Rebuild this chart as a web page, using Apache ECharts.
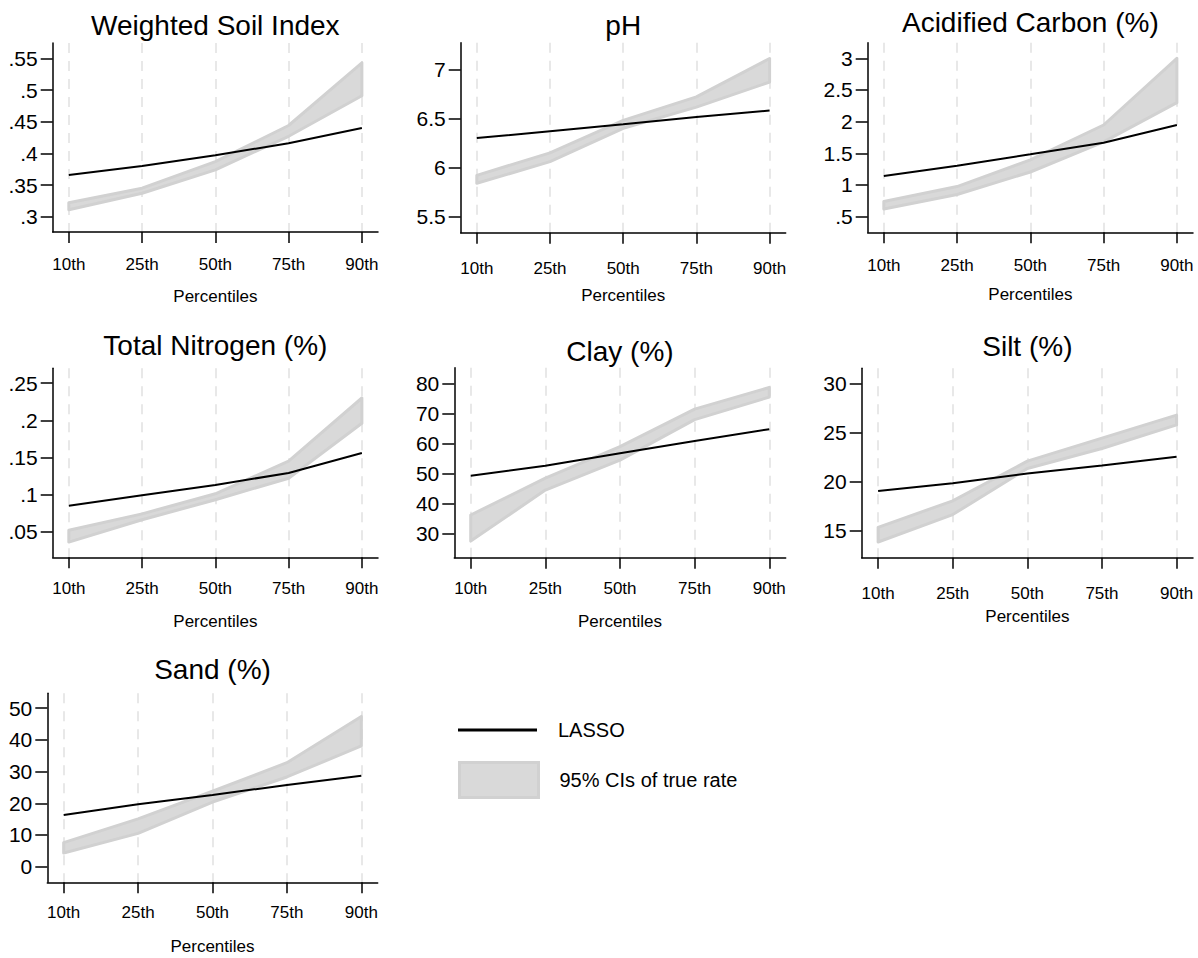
<!DOCTYPE html>
<html><head><meta charset="utf-8">
<script src="https://cdn.jsdelivr.net/npm/echarts@6/dist/echarts.min.js"></script>
<style>html,body{margin:0;padding:0;background:#fff}#c{width:1198px;height:958px}</style>
</head><body><div id="c"></div>
<script>
// ---------- data ----------
const percentiles = ['10th', '25th', '50th', '75th', '90th'];
const panelTitles = ['Weighted Soil Index', 'pH', 'Acidified Carbon (%)', 'Total Nitrogen (%)', 'Clay (%)', 'Silt (%)', 'Sand (%)'];
const legendNames = ['LASSO', '95% CIs of true rate'];
const xTitle = 'Percentiles';

const lassoWSI  = [0.366, 0.380, 0.397, 0.416, 0.440];
const ciLowWSI  = [0.311, 0.337, 0.374, 0.427, 0.491];
const ciHighWSI = [0.322, 0.345, 0.387, 0.444, 0.543];
const yTicksWSI = [0.3, 0.35, 0.4, 0.45, 0.5, 0.55];

const lassoPH  = [6.30, 6.37, 6.44, 6.515, 6.58];
const ciLowPH  = [5.84, 6.06, 6.40, 6.615, 6.87];
const ciHighPH = [5.92, 6.15, 6.48, 6.72, 7.11];
const yTicksPH = [5.5, 6, 6.5, 7];

const lassoAC  = [1.14, 1.305, 1.485, 1.668, 1.947];
const ciLowAC  = [0.62, 0.85, 1.205, 1.68, 2.30];
const ciHighAC = [0.74, 0.975, 1.395, 1.947, 3.0];
const yTicksAC = [0.5, 1, 1.5, 2, 2.5, 3];

const lassoTN  = [0.085, 0.099, 0.113, 0.129, 0.156];
const ciLowTN  = [0.036, 0.066, 0.093, 0.122, 0.196];
const ciHighTN = [0.052, 0.074, 0.101, 0.145, 0.230];
const yTicksTN = [0.05, 0.1, 0.15, 0.2, 0.25];

const lassoClay  = [49.2, 52.5, 56.7, 60.8, 64.7];
const ciLowClay  = [27.4, 44.4, 54.4, 67.9, 75.4];
const ciHighClay = [36.1, 48.4, 58.9, 71.4, 78.6];
const yTicksClay = [30, 40, 50, 60, 70, 80];

const lassoSilt  = [19.0, 19.8, 20.8, 21.6, 22.5];
const ciLowSilt  = [13.8, 16.6, 21.3, 23.35, 25.75];
const ciHighSilt = [15.3, 18.0, 22.05, 24.4, 26.75];
const yTicksSilt = [15, 20, 25, 30];

const lassoSand  = [16.3, 19.7, 22.6, 25.8, 28.7];
const ciLowSand  = [4.3, 10.5, 20.4, 28.3, 38.1];
const ciHighSand = [7.6, 15.1, 23.8, 32.8, 47.4];
const yTicksSand = [0, 10, 20, 30, 40, 50];

// ---------- layout (positions / axis ranges) ----------
const layout = [
  {left: 52.7,  top: 43,    width: 325.3, height: 189,   yMin: 0.2758, yMax: 0.5743, titleC: 25.8,  xlabC: 264.5, nameC: 296.7},
  {left: 460.7, top: 42.7,  width: 325,   height: 190,   yMin: 5.337,  yMax: 7.271,  titleC: 25,    xlabC: 268.3, nameC: 295},
  {left: 867.7, top: 42.7,  width: 325.3, height: 189.6, yMin: 0.253,  yMax: 3.246,  titleC: 22.5,  xlabC: 265.8, nameC: 294},
  {left: 52.7,  top: 368.3, width: 325.3, height: 189,   yMin: 0.0155, yMax: 0.270,  titleC: 345,   xlabC: 588,   nameC: 621},
  {left: 454.3, top: 367.7, width: 331.4, height: 190,   yMin: 21.87,  yMax: 85.2,   titleC: 351.7, xlabC: 588,   nameC: 621.3},
  {left: 861.7, top: 368.3, width: 331.3, height: 189.4, yMin: 12.2,   yMax: 31.53,  titleC: 346.7, xlabC: 593.3, nameC: 616},
  {left: 47.3,  top: 693.3, width: 330.4, height: 189,   yMin: -4.93,  yMax: 54.7,   titleC: 669.5, xlabC: 912.5, nameC: 946}
];

const panels = [
  {lasso: lassoWSI,  lo: ciLowWSI,  hi: ciHighWSI,  ticks: yTicksWSI},
  {lasso: lassoPH,   lo: ciLowPH,   hi: ciHighPH,   ticks: yTicksPH},
  {lasso: lassoAC,   lo: ciLowAC,   hi: ciHighAC,   ticks: yTicksAC},
  {lasso: lassoTN,   lo: ciLowTN,   hi: ciHighTN,   ticks: yTicksTN},
  {lasso: lassoClay, lo: ciLowClay, hi: ciHighClay, ticks: yTicksClay},
  {lasso: lassoSilt, lo: ciLowSilt, hi: ciHighSilt, ticks: yTicksSilt},
  {lasso: lassoSand, lo: ciLowSand, hi: ciHighSand, ticks: yTicksSand}
];

const FONT = "'Liberation Sans', Arial, Helvetica, sans-serif";
const TITLE_SIZE = 28, XLAB_SIZE = 17, YLAB_SIZE = 21, NAME_SIZE = 17, LEG_SIZE = 20;
const BAND_FILL = '#d9d9d9', BAND_EDGE = '#d1d1d1';
const xIdx = percentiles.map((_, j) => j);
const fmtY = v => String(v).replace(/^0\./, '.').replace(/^-0\./, '-.');

const grids = [], xAxes = [], yAxes = [], titles = [], series = [];
panels.forEach((p, i) => {
  const L = layout[i];
  const axisY = L.top + L.height;
  grids.push({left: L.left, top: L.top, width: L.width, height: L.height});
  titles.push({
    text: panelTitles[i], left: L.left + L.width / 2, top: L.titleC - TITLE_SIZE / 2,
    textAlign: 'center', padding: 0,
    textStyle: {fontFamily: FONT, fontSize: TITLE_SIZE, fontWeight: 'normal', color: '#000'}
  });
  xAxes.push({
    type: 'value', gridIndex: i, min: -0.22, max: 4.22,
    axisLine: {show: true, onZero: false, lineStyle: {color: '#000', width: 1.5}},
    axisTick: {show: true, length: 11, customValues: xIdx, lineStyle: {color: '#000', width: 1.5}},
    axisLabel: {customValues: xIdx, formatter: v => percentiles[Math.round(v)], margin: L.xlabC - axisY - XLAB_SIZE / 2,
      fontSize: XLAB_SIZE, color: '#000', fontFamily: FONT},
    splitLine: {show: true, lineStyle: {color: '#e8e8e8', width: 2, type: [10, 8]}},
    name: xTitle, nameLocation: 'middle', nameGap: L.nameC - axisY - NAME_SIZE / 2,
    nameTextStyle: {fontSize: NAME_SIZE, color: '#000', fontFamily: FONT}
  });
  yAxes.push({
    type: 'value', gridIndex: i, min: L.yMin, max: L.yMax,
    axisLine: {show: true, onZero: false, lineStyle: {color: '#000', width: 1.5}},
    axisTick: {show: true, length: 12, customValues: p.ticks, lineStyle: {color: '#000', width: 1.5}},
    axisLabel: {customValues: p.ticks, formatter: fmtY, margin: 15, fontSize: YLAB_SIZE, color: '#000',
      fontFamily: FONT, padding: [5, 0, 0, 0]},
    splitLine: {show: false}
  });
  series.push({
    type: 'custom', name: legendNames[1], xAxisIndex: i, yAxisIndex: i, z: 2, silent: true,
    data: xIdx.map(j => [j, p.lo[j], p.hi[j]]),
    encode: {x: 0, y: [1, 2]},
    itemStyle: {color: BAND_FILL},
    renderItem: (params, api) => {
      if (params.dataIndexInside !== 0) return null;
      const n = params.dataInsideLength;
      const up = [], dn = [];
      for (let j = 0; j < n; j++) {
        up.push(api.coord([api.value(0, j), api.value(2, j)]));
        dn.unshift(api.coord([api.value(0, j), api.value(1, j)]));
      }
      return {type: 'polygon', shape: {points: up.concat(dn)},
        style: {fill: BAND_FILL, stroke: BAND_EDGE, lineWidth: 3, lineJoin: 'round'}};
    }
  });
  series.push({
    type: 'line', name: legendNames[0], xAxisIndex: i, yAxisIndex: i, z: 3, silent: true,
    data: xIdx.map(j => [j, p.lasso[j]]), symbol: 'none',
    lineStyle: {color: '#000', width: 2}, itemStyle: {color: '#000'}
  });
});

const chart = echarts.init(document.getElementById('c'), null, {renderer: 'svg', width: 1198, height: 958});
chart.setOption({
  backgroundColor: '#fff',
  animation: false,
  title: titles,
  grid: grids,
  xAxis: xAxes,
  yAxis: yAxes,
  legend: [
    {data: [legendNames[0]], left: 458, top: 720, padding: 0, icon: 'rect', itemWidth: 79, itemHeight: 3,
      selectedMode: false, itemStyle: {color: '#000', borderWidth: 0},
      textStyle: {fontSize: LEG_SIZE, color: '#000', fontFamily: FONT, padding: [0, 0, 0, 16]}},
    {data: [legendNames[1]], left: 458, top: 761, padding: 0, icon: 'rect', itemWidth: 79, itemHeight: 35,
      selectedMode: false, itemStyle: {color: BAND_FILL, borderColor: BAND_EDGE, borderWidth: 3},
      textStyle: {fontSize: LEG_SIZE, color: '#000', fontFamily: FONT, padding: [0, 0, 0, 16]}}
  ],
  series: series
});
</script>
</body></html>
